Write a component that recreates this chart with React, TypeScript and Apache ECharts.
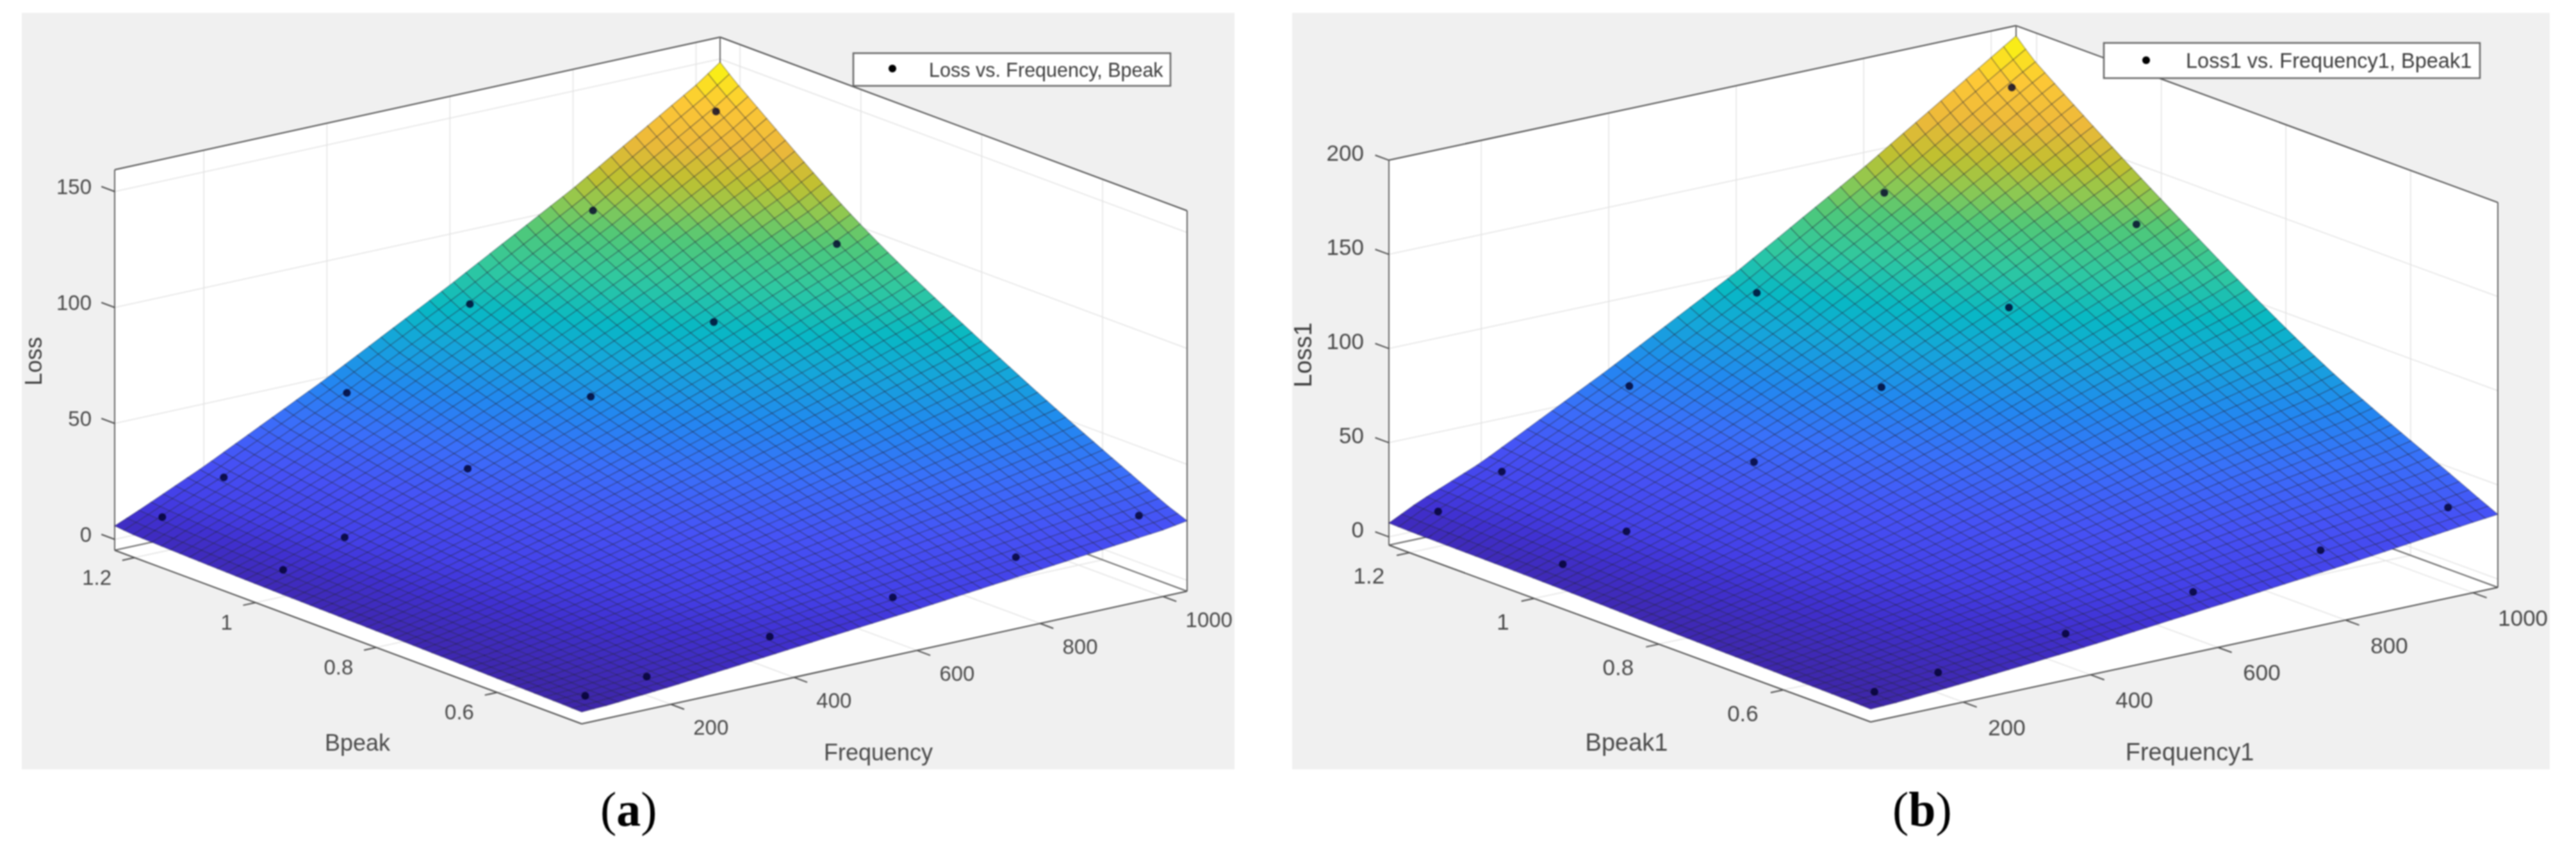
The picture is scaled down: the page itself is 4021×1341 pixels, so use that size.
import React, { useEffect, useRef } from "react";
import * as echarts from "echarts";

// Axis extents
const FREQ_MIN = 55, FREQ_MAX = 1039, BPEAK_MIN = 0.46, BPEAK_MAX = 1.233;
const FREQ_TICKS = [200, 400, 600, 800, 1000];
const BPEAK_TICKS = [0.6, 0.8, 1, 1.2];
const BPEAK_TICK_LABELS = ["0.6", "0.8", "1", "1.2"];
const LOSS_TICKS_A = [0, 50, 100, 150];
const LOSS_TICKS_B = [0, 50, 100, 150, 200];

// Scatter points
const POINT_FREQ = [100, 200, 400, 600, 800, 1000];
const POINT_BPEAK = [0.5, 1.0, 1.2];
const POINTS_A_B05 = [0.9, 3.4, 9, 14.3, 20, 26.3];
const POINTS_A_B10 = [6.8, 15, 33, 52.4, 73, 95];
const POINTS_A_B12 = [10.2, 21.5, 46.3, 73, 101.7, 132.8];
const POINTS_B_B05 = [3.5, 6.5, 12.6, 20.2, 27.8, 36];
const POINTS_B_B10 = [10.5, 20.7, 43, 68.2, 96, 125.6];
const POINTS_B_B12 = [14.2, 28.1, 59, 94, 132.6, 174];

// Fitted surface: control values (edges, corners, colour bands).
// The 50x50 drawn mesh is a rendering subdivision of this coarse table, since individual
// mesh nodes cannot be read one by one from the picture.
const SURF_FREQ = [55, 100, 200, 400, 600, 800, 1000, 1039];
const SURF_BPEAK = [0.46, 0.5, 0.75, 1.0, 1.2, 1.233];
const SURFACE_A = [
  [0.4, 0.9, 3.0, 8.0, 13.0, 18.5, 24.0, 25.7],
  [0.7, 1.3, 3.8, 9.7, 15.6, 21.8, 28.4, 30],
  [2.2, 4.2, 9.4, 20.7, 33, 46, 60, 63],
  [3.4, 6.8, 15, 33, 52.8, 74, 96, 101],
  [5.0, 10.2, 21.5, 46.3, 73, 102, 134, 141],
  [5.8, 10.9, 23, 49.5, 78, 108, 141, 148.6],
];
const SURFACE_B = [
  [2.4, 3.0, 5.6, 11.2, 18, 25, 33, 34.4],
  [2.8, 3.7, 6.9, 13.5, 21.6, 30, 38.6, 40.7],
  [4.3, 7, 13.4, 27.5, 44, 62, 78, 82],
  [6.2, 10.8, 21.3, 44.5, 70, 99, 129.5, 136],
  [7, 14.4, 28.4, 60, 95, 134, 176, 184],
  [7.3, 15, 29, 64, 101, 142, 186, 194.6],
];

const PARULA: [number, number, number, number][] = [
  [0, 62, 38, 168],
  [0.06, 64, 48, 208],
  [0.1, 68, 64, 232],
  [0.17, 70, 82, 246],
  [0.25, 58, 111, 250],
  [0.33, 34, 136, 240],
  [0.42, 20, 168, 216],
  [0.48, 8, 184, 196],
  [0.56, 48, 200, 160],
  [0.64, 80, 200, 120],
  [0.7, 144, 200, 80],
  [0.755, 192, 192, 48],
  [0.825, 236, 184, 58],
  [0.91, 253, 200, 54],
  [1, 248, 250, 13],
];

const MESH = 50;
const SANS = "Liberation Sans";

function colorAt(t: number) {
  const v = Math.max(0, Math.min(1, t));
  for (let i = 1; i < PARULA.length; i++) {
    if (v <= PARULA[i][0]) {
      const a = PARULA[i - 1], b = PARULA[i];
      const k = (v - a[0]) / (b[0] - a[0]);
      return `rgb(${Math.round(a[1] + (b[1] - a[1]) * k)},${Math.round(a[2] + (b[2] - a[2]) * k)},${Math.round(a[3] + (b[3] - a[3]) * k)})`;
    }
  }
  return "rgb(248,250,13)";
}

function surfaceValue(table: number[][], f: number, b: number) {
  let c = 0;
  while (c < SURF_FREQ.length - 2 && f > SURF_FREQ[c + 1]) c++;
  const kf = (f - SURF_FREQ[c]) / (SURF_FREQ[c + 1] - SURF_FREQ[c]);
  const col = table.map((row) => row[c] + (row[c + 1] - row[c]) * kf);
  let r = 0;
  while (r < SURF_BPEAK.length - 2 && b > SURF_BPEAK[r + 1]) r++;
  const n = SURF_BPEAK.length;
  const slope = (i: number) => {
    const lo = Math.max(0, i - 1), hi = Math.min(n - 1, i + 1);
    return (col[hi] - col[lo]) / (SURF_BPEAK[hi] - SURF_BPEAK[lo]);
  };
  const h = SURF_BPEAK[r + 1] - SURF_BPEAK[r];
  const t = (b - SURF_BPEAK[r]) / h;
  const t2 = t * t, t3 = t2 * t;
  return (
    (2 * t3 - 3 * t2 + 1) * col[r] +
    (t3 - 2 * t2 + t) * h * slope(r) +
    (-2 * t3 + 3 * t2) * col[r + 1] +
    (t3 - t2) * h * slope(r + 1)
  );
}

type Panel = {
  bg: number[]; front: number[]; fVec: number[]; bVec: number[]; zScale: number; zMin: number; zMax: number;
  table: number[][]; zTicks: number[]; tickFont: number; labelFont: number; legendFont: number;
  zLabelX: number; zLabelDy: number; fLabel: number[]; bLabel: number[];
  xName: string; xNamePos: number[]; yName: string; yNamePos: number[]; zName: string; zNamePos: number[];
  caption: string; capX: number; legendName: string; legendBox: number[]; legendMarker: number[]; legendTextX: number;
  points: number[][];
};

const PANELS: Panel[] = [
  {
    bg: [34, 20, 1927, 1201], front: [908, 1130], fVec: [945 / 984, -207 / 984], bVec: [-729 / 0.773, -271 / 0.773],
    zScale: 3.62, zMin: -4.7, zMax: 159.4, table: SURFACE_A, zTicks: LOSS_TICKS_A,
    tickFont: 33, labelFont: 36, legendFont: 30.5, zLabelX: 143, zLabelDy: -7, fLabel: [35, 36], bLabel: [-36, 31],
    xName: "Frequency", xNamePos: [1371, 1174], yName: "Bpeak", yNamePos: [558, 1159], zName: "Loss", zNamePos: [52, 564],
    caption: "a", capX: 982, legendName: "Loss vs. Frequency, Bpeak",
    legendBox: [1332, 83, 495, 51], legendMarker: [1393, 107], legendTextX: 1450,
    points: [POINTS_A_B05, POINTS_A_B10, POINTS_A_B12],
  },
  {
    bg: [2017, 20, 3980, 1201], front: [2920, 1127], fVec: [979 / 984, -210 / 984], bVec: [-752 / 0.773, -276 / 0.773],
    zScale: 2.94, zMin: -4.4, zMax: 200, table: SURFACE_B, zTicks: LOSS_TICKS_B,
    tickFont: 35, labelFont: 38, legendFont: 32.5, zLabelX: 2129, zLabelDy: -12, fLabel: [39, 39], bLabel: [-39, 36],
    xName: "Frequency1", xNamePos: [3418, 1174], yName: "Bpeak1", yNamePos: [2539, 1159], zName: "Loss1", zNamePos: [2034, 554],
    caption: "b", capX: 2999, legendName: "Loss1 vs. Frequency1, Bpeak1",
    legendBox: [3284, 67, 587, 55], legendMarker: [3350, 94], legendTextX: 3412,
    points: [POINTS_B_B05, POINTS_B_B10, POINTS_B_B12],
  },
];

function project(p: Panel, f: number, b: number, z: number) {
  return [
    p.front[0] + (f - FREQ_MIN) * p.fVec[0] + (b - BPEAK_MIN) * p.bVec[0],
    p.front[1] + (f - FREQ_MIN) * p.fVec[1] + (b - BPEAK_MIN) * p.bVec[1] - (z - p.zMin) * p.zScale,
  ];
}

function frameSeries(p: Panel, idx: number) {
  const { zMin, zMax } = p;
  const FA = FREQ_MIN, FB = FREQ_MAX, BA = BPEAK_MIN, BB = BPEAK_MAX;
  return {
    type: "custom", coordinateSystem: "cartesian2d", xAxisIndex: idx, yAxisIndex: idx, silent: true, clip: false, z: 1,
    data: [[p.bg[0], p.bg[1]]],
    renderItem: (_: any, api: any) => {
      const at = (f: number, b: number, z: number) => api.coord(project(p, f, b, z));
      const kids: any[] = [];
      kids.push({
        type: "polygon",
        shape: { points: [at(FA, BB, zMax), at(FB, BB, zMax), at(FB, BA, zMax), at(FB, BA, zMin), at(FA, BA, zMin), at(FA, BB, zMin)] },
        style: { fill: "#ffffff" },
      });
      const grid = (a: number[], b: number[]) => kids.push({ type: "line", shape: { x1: a[0], y1: a[1], x2: b[0], y2: b[1] }, style: { stroke: "#e3e3e3", lineWidth: 1.5 } });
      const frame = (a: number[], b: number[], c = "#4d4d4d", w = 2) => kids.push({ type: "line", shape: { x1: a[0], y1: a[1], x2: b[0], y2: b[1] }, style: { stroke: c, lineWidth: w } });
      const txt = (s: string, pt: number[], align: string, size: number, fill = "#4a4a4a", rotation = 0) =>
        kids.push({
          type: "text", x: pt[0], y: pt[1], rotation,
          style: { text: s, fontSize: size, fontFamily: SANS, fill, align, verticalAlign: "middle" },
        });
      FREQ_TICKS.forEach((f) => {
        grid(at(f, BA, zMin), at(f, BB, zMin));
        grid(at(f, BB, zMin), at(f, BB, zMax));
      });
      BPEAK_TICKS.forEach((b) => {
        grid(at(FA, b, zMin), at(FB, b, zMin));
        grid(at(FB, b, zMin), at(FB, b, zMax));
      });
      p.zTicks.forEach((z) => {
        grid(at(FA, BB, z), at(FB, BB, z));
        grid(at(FB, BB, z), at(FB, BA, z));
      });
      frame(at(FA, BB, zMax), at(FB, BB, zMax));
      frame(at(FB, BB, zMax), at(FB, BA, zMax));
      frame(at(FA, BB, zMin), at(FA, BB, zMax), "#666666");
      frame(at(FB, BA, zMin), at(FB, BA, zMax), "#666666");
      frame(at(FB, BB, zMin), at(FB, BB, zMax), "#666666");
      frame(at(FA, BB, zMin), at(FB, BB, zMin), "#666666");
      frame(at(FB, BB, zMin), at(FB, BA, zMin), "#666666");
      frame(at(FA, BB, zMin), at(FA, BA, zMin));
      frame(at(FA, BA, zMin), at(FB, BA, zMin));
      FREQ_TICKS.forEach((f) => {
        const a = at(f, BA, zMin);
        frame(a, at(f, BA - 0.022, zMin));
        const base = project(p, f, BA, zMin);
        txt(String(f), api.coord([base[0] + p.fLabel[0], base[1] + p.fLabel[1]]), "left", p.tickFont);
      });
      BPEAK_TICKS.forEach((b, i) => {
        const a = at(FA, b, zMin);
        frame(a, at(FA - 20, b, zMin));
        const base = project(p, FA, b, zMin);
        txt(BPEAK_TICK_LABELS[i], api.coord([base[0] + p.bLabel[0], base[1] + p.bLabel[1]]), "right", p.tickFont);
      });
      p.zTicks.forEach((z) => {
        frame(at(FA, BB, z), at(FA, BB + 0.022, z));
        const base = project(p, FA, BB, z);
        txt(String(z), api.coord([p.zLabelX, base[1] + p.zLabelDy]), "right", p.tickFont);
      });
      txt(p.xName, api.coord(p.xNamePos), "center", p.labelFont);
      txt(p.yName, api.coord(p.yNamePos), "center", p.labelFont);
      txt(p.zName, api.coord(p.zNamePos), "center", p.labelFont, "#404040", Math.PI / 2);
      return { type: "group", children: kids };
    },
  };
}

function surfaceSeries(p: Panel, idx: number) {
  const nodes: number[][] = [];
  for (let j = 0; j <= MESH; j++) {
    const row: number[] = [];
    const b = BPEAK_MIN + ((BPEAK_MAX - BPEAK_MIN) * j) / MESH;
    for (let i = 0; i <= MESH; i++) {
      row.push(surfaceValue(p.table, FREQ_MIN + ((FREQ_MAX - FREQ_MIN) * i) / MESH, b));
    }
    nodes.push(row);
  }
  const lo = nodes[0][0], hi = nodes[MESH][MESH];
  const fAt = (i: number) => FREQ_MIN + ((FREQ_MAX - FREQ_MIN) * i) / MESH;
  const bAt = (j: number) => BPEAK_MIN + ((BPEAK_MAX - BPEAK_MIN) * j) / MESH;
  const cells: number[][] = [];
  for (let j = MESH - 1; j >= 0; j--) for (let i = MESH - 1; i >= 0; i--) cells.push([i, j]);
  return {
    type: "custom", coordinateSystem: "cartesian2d", xAxisIndex: idx, yAxisIndex: idx, silent: true, clip: false, z: 2,
    progressive: 0, data: cells,
    renderItem: (params: any, api: any) => {
      const [i, j] = cells[params.dataIndex];
      const pts = [[i, j], [i + 1, j], [i + 1, j + 1], [i, j + 1]].map(([a, b]) => api.coord(project(p, fAt(a), bAt(b), nodes[b][a])));
      const mean = (nodes[j][i] + nodes[j][i + 1] + nodes[j + 1][i] + nodes[j + 1][i + 1]) / 4;
      return {
        type: "polygon", shape: { points: pts },
        style: { fill: colorAt((mean - lo) / (hi - lo)), stroke: "rgba(15,15,40,0.3)", lineWidth: 1.5 },
      };
    },
  };
}

function scatterSeries(p: Panel, idx: number) {
  const data: number[][] = [];
  POINT_BPEAK.forEach((b, r) => POINT_FREQ.forEach((f, c) => data.push(project(p, f, b, p.points[r][c]))));
  return {
    type: "scatter", name: p.legendName, coordinateSystem: "cartesian2d", xAxisIndex: idx, yAxisIndex: idx, silent: true, z: 3,
    symbol: "circle", symbolSize: 12, itemStyle: { color: "#00002a" }, data,
  };
}

export default function App() {
  const ref = useRef<HTMLDivElement>(null);
  useEffect(() => {
    document.body.style.margin = "0";
    const chart = echarts.init(ref.current!, undefined, { renderer: "svg" });
    chart.setOption({
      animation: false,
      backgroundColor: "#ffffff",
      grid: PANELS.map((p) => ({
        left: p.bg[0], top: p.bg[1], width: p.bg[2] - p.bg[0], height: p.bg[3] - p.bg[1],
        show: true, backgroundColor: "#f0f0f0", borderWidth: 0,
      })),
      xAxis: PANELS.map((p, i) => ({ type: "value", gridIndex: i, min: p.bg[0], max: p.bg[2], show: false })),
      yAxis: PANELS.map((p, i) => ({ type: "value", gridIndex: i, min: p.bg[1], max: p.bg[3], inverse: true, show: false })),
      series: PANELS.flatMap((p, i) => [frameSeries(p, i), surfaceSeries(p, i), scatterSeries(p, i)]),
      graphic: PANELS.flatMap((p) => [
        {
          type: "text", left: p.capX - 45, top: 1225, z: 100,
          style: {
            text: `{n|(}{b|${p.caption}}{n|)}`,
            rich: {
              n: { fontFamily: "Liberation Serif", fontSize: 76, fill: "#000000" },
              b: { fontFamily: "Liberation Serif", fontSize: 76, fontWeight: "bold", fill: "#000000" },
            },
          },
        },
        {
          type: "rect", z: 100,
          shape: { x: p.legendBox[0], y: p.legendBox[1], width: p.legendBox[2], height: p.legendBox[3] },
          style: { fill: "#ffffff", stroke: "#666666", lineWidth: 2.5 },
        },
        {
          type: "circle", z: 101,
          shape: { cx: p.legendMarker[0], cy: p.legendMarker[1], r: 6 },
          style: { fill: "#000000" },
        },
        {
          type: "text", z: 101, x: p.legendTextX, y: p.legendBox[1] + p.legendBox[3] / 2,
          style: { text: p.legendName, fontFamily: SANS, fontSize: p.legendFont, fill: "#3c3c3c", verticalAlign: "middle", align: "left" },
        },
      ]),
    });
    return () => chart.dispose();
  }, []);
  return <div ref={ref} style={{ width: 4021, height: 1341, position: "absolute", left: 0, top: 0, filter: "blur(0.8px)" }} />;
}
